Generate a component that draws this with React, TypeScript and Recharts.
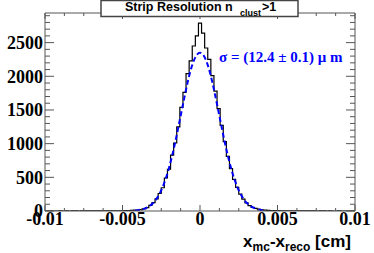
import React from 'react';
import { LineChart, Line, XAxis, YAxis } from 'recharts';

// Histogram bin centres (cm): -0.01 .. 0.01, bin width 0.0002
const binCenters: number[] = Array.from({ length: 101 }, (_, i) => Math.round((-0.01 + i * 0.0002) * 1e6) / 1e6);

// Histogram counts per bin
const counts: number[] = [
  0, 0, 1, 0, 0, 1, 0, 1, 0, 1, 1, 0, 1, 1, 1, 2, 1, 2, 2, 2, 3, 2, 3, 3, 4,
  4, 5, 7, 9, 12,
  15, 22, 33, 50, 85, 125, 180, 260, 345, 490,
  620, 830, 1010, 1250, 1540, 1760, 2040, 2230, 2450, 2600,
  2790,
  2640, 2420, 2250, 2010, 1780, 1520, 1270, 1030, 810, 630,
  470, 350, 250, 175, 120, 80, 55, 38, 25, 18,
  12, 9, 7, 5, 5,
  4, 3, 3, 2, 3, 2, 2, 1, 2, 1, 1, 1, 0, 1, 1, 0, 1, 0, 0, 1, 0, 0, 0, 1, 0,
];

// Gaussian fit curve values, null outside fit range
const fitLeft: number[] = [8, 13, 21, 35, 55, 84, 125, 183, 260, 360, 486, 639, 818, 1020, 1241, 1469, 1695, 1908, 2092, 2231, 2320];
const fitPeak: number[] = [2350];
const fitRight: number[] = [2320, 2231, 2092, 1908, 1695, 1469, 1241, 1020, 818, 639, 486, 360, 260, 183, 125, 84, 55, 35, 21, 13, 8];
const fitNullsLeft: null[] = new Array(29).fill(null);
const fitNullsRight: null[] = new Array(29).fill(null);
const fitValues: (number | null)[] = [...fitNullsLeft, ...fitLeft, ...fitPeak, ...fitRight, ...fitNullsRight];

const xTicks: number[] = [-0.01, -0.00875, -0.0075, -0.00625, -0.005, -0.00375, -0.0025, -0.00125, 0, 0.00125, 0.0025, 0.00375, 0.005, 0.00625, 0.0075, 0.00875, 0.01];
const xMajor: number[] = [-0.01, -0.005, 0, 0.005, 0.01];
const xMajorLabels: string[] = ['-0.01', '-0.005', '0', '0.005', '0.01'];
const yTicks: number[] = Array.from({ length: 30 }, (_, i) => i * 100);
const yMajor: number[] = [0, 500, 1000, 1500, 2000, 2500];
const yMajorLabels: string[] = ['0', '500', '1000', '1500', '2000', '2500'];

const data = binCenters.map((x, i) => ({ x, h: counts[i], f: fitValues[i] }));

const AXIS = '#555';
const SERIF = '"Liberation Serif", "Times New Roman", serif';
const SANS = '"Liberation Sans", Arial, sans-serif';

const majorIndex = (arr: number[], v: number) => arr.findIndex((m) => Math.abs(m - v) < 1e-9);

const BottomTick = (props: any) => {
  const { x, y, payload } = props;
  const mi = majorIndex(xMajor, payload.value);
  const len = mi >= 0 ? 6 : 3;
  return (
    <g>
      <line x1={x} x2={x} y1={y} y2={y - len} stroke={AXIS} strokeWidth={1} />
      {mi >= 0 && (
        <text x={x} y={y + 14} textAnchor="middle" fontFamily={SERIF} fontWeight="bold" fontSize={18} fill="#000">
          {xMajorLabels[mi]}
        </text>
      )}
    </g>
  );
};

const TopTick = (props: any) => {
  const { x, y, payload } = props;
  const mi = majorIndex(xMajor, payload.value);
  const len = mi >= 0 ? 6 : 3;
  return <line x1={x} x2={x} y1={y} y2={y + len} stroke={AXIS} strokeWidth={1} />;
};

const LeftTick = (props: any) => {
  const { x, y, payload } = props;
  const mi = majorIndex(yMajor, payload.value);
  const len = mi >= 0 ? 9 : 5;
  return (
    <g>
      <line x1={x} x2={x + len} y1={y} y2={y} stroke={AXIS} strokeWidth={1} />
      {mi >= 0 && (
        <text x={x - 2} y={y} dy="0.35em" textAnchor="end" fontFamily={SERIF} fontWeight="bold" fontSize={18} fill="#000">
          {yMajorLabels[mi]}
        </text>
      )}
    </g>
  );
};

const RightTick = (props: any) => {
  const { x, y, payload } = props;
  const mi = majorIndex(yMajor, payload.value);
  const len = mi >= 0 ? 9 : 5;
  return <line x1={x} x2={x - len} y1={y} y2={y} stroke={AXIS} strokeWidth={1} />;
};

export default function App() {
  return (
    <div style={{ position: 'absolute', left: 0, top: 0, width: 374, height: 253, background: '#fff' }}>
      <LineChart width={374} height={253} data={data} margin={{ top: 12, right: 0, bottom: 12, left: 0 }}>
        <XAxis
          xAxisId="b"
          dataKey="x"
          type="number"
          domain={[-0.01, 0.01]}
          ticks={xTicks}
          interval={0}
          height={30}
          tickSize={0}
          tickMargin={0}
          tickLine={false}
          axisLine={{ stroke: AXIS }}
          tick={<BottomTick />}
          allowDataOverflow
        />
        <XAxis
          xAxisId="t"
          orientation="top"
          dataKey="x"
          type="number"
          domain={[-0.01, 0.01]}
          ticks={xTicks}
          interval={0}
          height={1}
          tickSize={0}
          tickMargin={0}
          tickLine={false}
          axisLine={{ stroke: AXIS }}
          tick={<TopTick />}
          allowDataOverflow
        />
        <YAxis
          yAxisId="l"
          type="number"
          domain={[0, 2940]}
          ticks={yTicks}
          interval={0}
          width={45}
          tickSize={0}
          tickMargin={0}
          tickLine={false}
          axisLine={{ stroke: AXIS }}
          tick={<LeftTick />}
          allowDataOverflow
        />
        <YAxis
          yAxisId="r"
          orientation="right"
          type="number"
          domain={[0, 2940]}
          ticks={yTicks}
          interval={0}
          width={19}
          tickSize={0}
          tickMargin={0}
          tickLine={false}
          axisLine={{ stroke: AXIS }}
          tick={<RightTick />}
          allowDataOverflow
        />
        <Line xAxisId="t" yAxisId="r" dataKey="h" stroke="none" dot={false} activeDot={false} isAnimationActive={false} />
        <Line
          xAxisId="b"
          yAxisId="l"
          dataKey="h"
          type="step"
          stroke="#000"
          strokeWidth={1.2}
          dot={false}
          activeDot={false}
          isAnimationActive={false}
        />
        <Line
          xAxisId="b"
          yAxisId="l"
          dataKey="f"
          type="monotone"
          stroke="#0000ff"
          strokeWidth={2}
          strokeDasharray="5 3"
          dot={false}
          activeDot={false}
          connectNulls={false}
          isAnimationActive={false}
        />
      </LineChart>
      <svg width={374} height={253} style={{ position: 'absolute', left: 0, top: 0, pointerEvents: 'none' }}>
        <rect x={101} y={0.5} width={197} height={16} fill="#fff" stroke="#444" strokeWidth={1.5} />
        <text x={125} y={11} fontFamily={SANS} fontWeight="bold" fontSize={12.5} fill="#000">
          Strip Resolution n
        </text>
        <text x={240} y={16} fontFamily={SANS} fontWeight="bold" fontSize={9} fill="#000">
          clust
        </text>
        <text x={262} y={11} fontFamily={SANS} fontWeight="bold" fontSize={12.5} fill="#000">
          &gt;1
        </text>
        <text x={219} y={61.5} fontFamily={SERIF} fontWeight="bold" fontSize={15} fill="#0000ff">
          σ = (12.4 ± 0.1) μ m
        </text>
        <text x={351} y={247} textAnchor="end" fontFamily={SANS} fontWeight="bold" fontSize={17} fill="#000">
          <tspan>x</tspan>
          <tspan fontSize={12} dy={4}>mc</tspan>
          <tspan dy={-4}>-x</tspan>
          <tspan fontSize={12} dy={4}>reco</tspan>
          <tspan dy={-4}> [cm]</tspan>
        </text>
      </svg>
    </div>
  );
}
